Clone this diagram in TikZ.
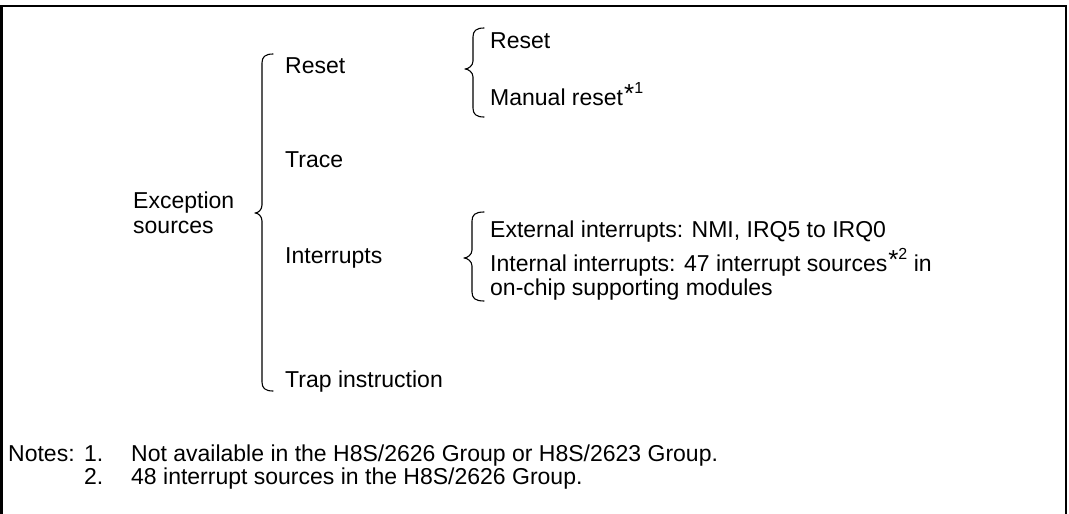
\documentclass[tikz,border=0pt]{standalone}
\usepackage{fontspec}
\setmainfont{Liberation Sans}
\newcommand\drawcbrace[6]{% xend, xv, xtip, ytop, ytip, ybot
  \draw[bracestyle] ({#1},{#4}) .. controls ({#2+3},{#4}) and ({#2},{#4+3}) .. ({#2},{#4+9})
    -- ({#2},{#5-8}) .. controls ({#2},{#5-3}) and ({#3+3},{#5}) .. ({#3},{#5})
    .. controls ({#3+3},{#5}) and ({#2},{#5+3}) .. ({#2},{#5+8})
    -- ({#2},{#6-9}) .. controls ({#2},{#6-3}) and ({#2+3},{#6}) .. ({#1},{#6});}
\newcommand\supast[1]{\kern1pt\raisebox{3pt}{\fontsize{26}{26}\selectfont *}\raisebox{12pt}{\fontsize{16}{16}\selectfont #1}}
\begin{document}
\begin{tikzpicture}[x=1pt,y=-1pt,
  txt/.style={anchor=base west, inner sep=0pt, font=\fontsize{23}{27}\selectfont},
  bracestyle/.style={line width=1.1pt, line join=round, line cap=round}]
\useasboundingbox (0,0) rectangle (1069,514);
\draw[line width=2.5pt] (1.5,516) -- (1.5,6) -- (1066,6) -- (1066,516);
% level 0
\node[txt] (exc) at (133,208) {Exception};
\node[txt] (src) at (133,233) {sources};
% level 1
\node[txt] (reset1) at (285,73) {Reset};
\node[txt] (trace) at (285,167) {Trace};
\node[txt] (intr) at (285,263) {Interrupts};
\node[txt] (trap) at (285,387) {Trap instruction};
% level 2
\node[txt] (reset2) at (490,48) {Reset};
\node[txt] (manual) at (490,105) {Manual reset\supast{1}};
\node[txt] (ext) at (490,237) {External interrupts: NMI, IRQ5 to IRQ0};
\node[txt] (int) at (490,271) {Internal interrupts: 47 interrupt sources\supast{2} in};
\node[txt] (onchip) at (490,295) {on-chip supporting modules};
% braces
\drawcbrace{273}{262}{255}{54}{213}{391}
\drawcbrace{484}{473}{465}{28}{69}{117}
\drawcbrace{484}{472}{464}{212}{258}{301}
% notes
\node[txt] (notes) at (8,461) {Notes:};
\node[txt] (n1) at (84,461) {1.};
\node[txt] (n1t) at (131,461) {Not available in the H8S/2626 Group or H8S/2623 Group.};
\node[txt] (n2) at (84,484) {2.};
\node[txt] (n2t) at (131,484) {48 interrupt sources in the H8S/2626 Group.};
\end{tikzpicture}
\end{document}
